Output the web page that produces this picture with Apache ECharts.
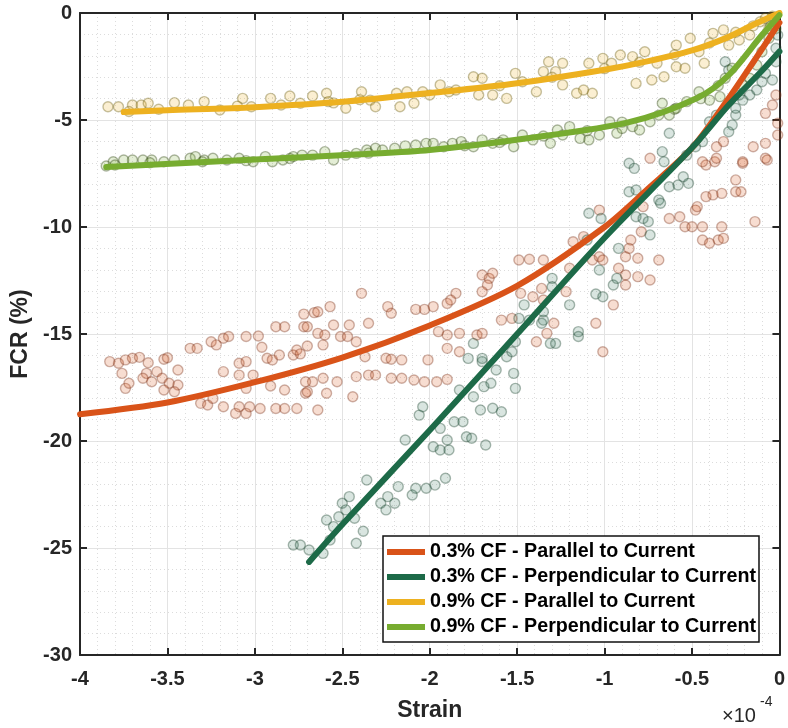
<!DOCTYPE html>
<html><head><meta charset="utf-8">
<script src="https://cdn.jsdelivr.net/npm/echarts@6/dist/echarts.min.js"></script>
<style>html,body{margin:0;padding:0;background:#fff}#c{width:788px;height:728px}</style>
</head><body><div id="c"></div>
<script>
// ---- data (strain in units of 1e-4, FCR in %) ----
const seriesNames = [
  '0.3% CF - Parallel to Current',
  '0.3% CF - Perpendicular to Current',
  '0.9% CF - Parallel to Current',
  '0.9% CF - Perpendicular to Current'
];
const xAxisName = 'Strain';
const yAxisName = 'FCR (%)';
const xExponent = '-4';

// fitted curves
const fit03ParX = [-4, -3.5, -3, -2.5, -2, -1.5, -1, -0.75, -0.5, -0.3, -0.15, 0];
const fit03ParY = [-18.75, -18.2, -17.25, -16.1, -14.6, -12.75, -10.0, -8.2, -6.3, -4.1, -2.3, -0.45];
const fit03PerpX = [-2.69, -2.5, -2, -1.5, -1, -0.5, -0.29, -0.1, 0];
const fit03PerpY = [-25.65, -23.9, -19.5, -15.0, -10.5, -6.3, -4.3, -2.7, -1.8];
const fit09ParX = [-3.75, -3.5, -3, -2.5, -2, -1.5, -1, -0.75, -0.5, -0.3, -0.15, 0];
const fit09ParY = [-4.63, -4.55, -4.4, -4.15, -3.74, -3.28, -2.65, -2.25, -1.75, -1.15, -0.55, 0];
const fit09PerpX = [-3.85, -3.0, -2.4, -2.0, -1.43, -0.86, -0.47, -0.29, -0.1, 0];
const fit09PerpY = [-7.2, -6.85, -6.6, -6.4, -5.84, -5.1, -3.97, -2.9, -1.03, -0.1];

// measured points
const pts03Par = [
[-3.83,-16.29],[-3.78,-16.37],[-3.76,-16.84],[-3.74,-16.21],[-3.70,-16.13],[-3.66,-16.09],[-3.61,-16.34],[-3.62,-16.84],
[-3.64,-17.07],[-3.59,-17.23],[-3.56,-16.76],[-3.52,-16.18],[-3.50,-16.11],[-3.53,-17.07],[-3.49,-17.30],[-3.44,-17.38],
[-3.44,-16.68],[-3.74,-17.54],[-3.72,-17.30],[-3.52,-17.62],[-3.46,-17.70],[-3.37,-15.67],[-3.33,-15.67],[-3.25,-15.36],
[-3.22,-15.51],[-3.18,-15.20],[-3.15,-15.12],[-3.18,-16.76],[-3.09,-16.37],[-3.09,-16.92],[-3.05,-15.12],[-3.05,-16.29],
[-3.01,-16.92],[-2.98,-15.09],[-2.96,-15.62],[-2.93,-16.13],[-2.90,-16.21],[-2.86,-15.98],[-2.88,-14.66],[-2.83,-14.66],
[-2.78,-15.98],[-2.76,-15.75],[-2.74,-15.93],[-2.72,-14.07],[-2.72,-14.66],[-2.70,-14.66],[-2.70,-15.56],[-2.66,-14.00],
[-2.64,-13.96],[-2.64,-14.97],[-2.60,-15.05],[-2.57,-13.72],[-2.55,-14.58],[-2.51,-15.12],[-2.47,-15.12],[-2.46,-14.58],
[-2.42,-15.36],[-2.39,-13.10],[-2.37,-16.06],[-2.35,-14.50],[-2.61,-15.51],[-2.61,-17.07],[-2.67,-17.23],[-2.71,-17.23],
[-2.71,-17.77],[-2.59,-17.77],[-2.53,-17.23],[-2.44,-17.93],[-2.42,-16.99],[-2.35,-16.92],[-2.31,-16.92],[-2.24,-13.72],
[-2.22,-14.03],[-2.25,-16.13],[-2.22,-16.18],[-2.16,-16.21],[-2.22,-17.07],[-2.16,-17.07],[-2.09,-17.15],[-2.03,-17.23],
[-2.08,-13.85],[-2.03,-13.85],[-1.98,-13.72],[-1.95,-14.89],[-2.01,-16.21],[-1.96,-17.23],[-3.31,-18.24],[-3.27,-18.32],
[-3.24,-18.01],[-3.18,-18.40],[-3.11,-18.71],[-3.09,-18.40],[-3.05,-18.71],[-3.03,-18.40],[-2.97,-18.48],[-2.88,-18.48],
[-2.83,-18.48],[-2.76,-18.48],[-2.64,-18.55],[-3.05,-17.54],[-2.91,-17.43],[-2.83,-17.62],[-2.70,-17.70],
[-1.90,-17.12],[-1.90,-15.67],[-1.83,-15.83],
[-1.90,-13.57],[-1.85,-13.10],[-1.88,-13.41],[-1.90,-15.05],[-1.83,-14.97],[-1.70,-12.24],[-1.66,-12.40],[-1.64,-12.16],
[-1.67,-12.71],[-1.70,-13.02],[-1.49,-11.54],[-1.43,-11.51],[-1.35,-11.54],[-1.48,-13.10],[-1.41,-13.26],[-1.36,-12.87],
[-1.35,-13.41],[-1.59,-14.35],[-1.53,-14.27],[-1.73,-15.05],[-1.70,-14.97],[-1.39,-15.36],[-1.29,-14.50],[-1.33,-14.97],
[-1.22,-13.02],[-1.18,-10.69],[-1.12,-10.45],[-1.20,-11.93],[-1.07,-11.54],[-1.03,-11.39],[-1.01,-11.54],[-1.05,-14.50],
[-1.01,-15.83],[-0.95,-13.64],[-0.92,-11.93],[-0.88,-12.24],[-0.88,-12.71],[-0.81,-12.32],[-0.81,-11.46],[-0.88,-11.39],
[-0.85,-10.61],[-0.86,-11.00],[-0.79,-10.22],[-0.74,-12.48],[-0.69,-11.54],[-1.03,-9.21],[-0.78,-9.05],[-0.63,-9.60],
[-0.57,-9.52],[-0.54,-9.99],[-0.50,-9.99],[-0.44,-9.99],[-0.33,-9.99],[-0.44,-10.61],[-0.40,-10.76],[-0.35,-10.61],
[-0.32,-10.53],[-0.48,-9.21],[-0.47,-9.05],[-0.42,-8.58],[-0.38,-8.50],[-0.33,-8.43],[-0.25,-7.80],[-0.25,-8.35],
[-0.22,-8.35],[-0.14,-9.75],[-0.42,-7.10],[-0.37,-6.95],[-0.21,-7.02],[-0.07,-6.87],
[-0.74,-6.79],[-0.44,-6.95],[-0.36,-6.25],[-0.32,-6.01],[-0.36,-6.79],[-0.21,-6.95],[-0.15,-6.25],[-0.08,-6.09],
[-0.08,-6.79],[-0.08,-4.69],[-0.04,-4.30],[-0.02,-3.83],[-0.01,-5.70],[-0.01,-5.15]
];
const pts03Perp = [
[-2.78,-24.86],[-2.74,-24.86],[-2.69,-25.09],[-2.61,-25.25],[-2.57,-24.63],[-2.55,-24.00],[-2.59,-23.69],[-2.52,-23.54],
[-2.50,-22.91],[-2.48,-23.22],[-2.46,-22.60],[-2.42,-24.78],[-2.38,-24.22],[-2.43,-23.61],[-2.36,-21.82],[-2.28,-22.91],
[-2.25,-23.22],[-2.24,-22.60],[-2.20,-22.91],[-2.18,-22.13],[-2.14,-19.95],[-2.10,-22.52],[-2.08,-22.21],[-2.02,-22.21],
[-1.97,-22.06],[-1.91,-21.74],[-2.06,-18.79],[-2.04,-18.40],[-1.98,-20.27],[-1.94,-20.42],[-1.89,-20.42],[-1.90,-19.95],
[-1.94,-19.41],[-1.86,-19.10],[-1.81,-19.10],[-1.79,-19.80],[-1.76,-19.87],[-1.71,-18.55],[-1.68,-20.19],[-1.64,-18.47],
[-1.59,-18.63],[-1.69,-17.46],[-1.65,-17.30],[-1.70,-16.29],[-1.62,-16.68],[-1.52,-16.84],[-1.51,-17.54],[-1.83,-17.62],
[-1.75,-17.93],
[-1.78,-16.14],[-1.75,-15.44],[-1.70,-16.14],[-1.56,-16.06],[-1.53,-15.83],[-1.51,-15.36],[-1.46,-13.64],[-1.49,-14.27],
[-1.43,-14.35],[-1.36,-14.50],[-1.35,-14.35],[-1.35,-13.96],[-1.30,-12.40],[-1.30,-12.79],[-1.31,-15.44],[-1.28,-15.44],
[-1.20,-13.64],[-1.15,-14.89],[-1.15,-15.12],[-1.10,-10.61],[-1.09,-9.36],[-1.05,-13.13],[-1.01,-13.26],[-1.02,-9.60],
[-1.03,-12.01],[-0.95,-12.71],[-0.93,-12.40],[-0.92,-11.00],[-0.82,-9.52],[-0.78,-9.60],[-0.82,-8.27],[-0.86,-8.35],
[-0.75,-9.75],[-0.74,-10.37],[-0.69,-8.74],[-0.68,-8.89],[-0.63,-8.12],[-0.58,-8.04],[-0.55,-7.65],[-0.52,-7.96],
[-0.83,-7.26],
[-0.86,-7.02],[-0.67,-6.48],[-0.63,-5.62],[-0.66,-6.95],[-0.53,-6.64],[-0.48,-6.25],[-0.44,-6.01],[-0.40,-5.08],
[-0.36,-4.77],[-0.29,-5.55],[-0.27,-5.23],[-0.25,-4.77],[-0.25,-4.45],[-0.21,-4.07],[-0.17,-3.83],[-0.23,-3.83],
[-0.13,-3.60],[-0.10,-3.21],[-0.08,-2.82],[-0.04,-3.13],[-0.02,-2.28],[-0.02,-1.65],[-0.01,-1.03],[-0.31,-2.28],
[-0.29,-2.66]
];
const pts09Par = [
[-3.84,-4.38],[-3.78,-4.38],[-3.70,-4.30],[-3.65,-4.30],[-3.61,-4.22],[-3.46,-4.19],[-3.38,-4.30],[-3.29,-4.14],
[-3.20,-4.53],[-3.07,-3.99],[-3.02,-4.38],[-2.91,-3.99],[-2.80,-3.88],[-2.74,-4.22],[-2.67,-3.88],[-2.59,-3.75],
[-2.58,-4.14],[-2.48,-4.45],[-2.39,-3.68],[-2.34,-4.07],[-2.31,-4.38],[-2.19,-3.75],[-2.13,-3.68],[-2.09,-4.22],
[-2.04,-3.68],[-2.17,-4.38],[-2.00,-3.83],[-1.94,-3.36],[-1.89,-3.68],[-1.75,-2.98],[-1.70,-3.05],[-1.72,-3.83],
[-1.64,-3.83],[-1.56,-3.99],[-1.51,-2.82],[-1.47,-3.21],[-1.39,-3.68],[-1.35,-2.74],[-1.32,-2.28],[-1.28,-2.74],
[-1.24,-2.35],[-1.24,-3.36],[-1.16,-3.75],[-1.12,-3.60],[-1.07,-3.75],[-1.09,-2.35],[-1.01,-2.12],[-0.96,-2.35],
[-0.91,-1.96],[-0.84,-2.04],[-0.77,-1.81],[-0.82,-3.29],[-0.73,-3.13],[-0.66,-2.98],[-0.70,-2.35],[-0.59,-2.51],
[-0.54,-2.58],[-0.59,-1.50],[-0.51,-1.18],[-0.46,-1.81],[-0.43,-2.35],[-0.38,-0.95],[-0.32,-0.79],[-0.29,-1.50],
[-0.23,-1.26],[-0.17,-1.03],[-0.11,-0.41],[-0.08,-0.25],[-0.06,-0.72],
[-3.72,-4.60],[-3.55,-4.50],[-3.10,-4.35],[-2.85,-4.30],[-2.55,-4.20],[-2.40,-4.05],[-1.85,-3.60],[-1.60,-3.40],
[-1.30,-3.00],[-1.00,-2.60],[-0.80,-2.30],[-0.60,-1.95],[-0.40,-1.40],[-0.25,-0.90],[-0.15,-0.60],[-0.04,-0.15]
];
const pts09Perp = [
[-3.85,-7.15],[-3.81,-6.95],[-3.75,-6.87],[-3.70,-6.87],[-3.64,-6.87],[-3.59,-6.87],[-3.52,-6.95],[-3.46,-6.87],
[-3.37,-6.79],[-3.34,-6.71],[-3.29,-6.87],[-3.24,-6.79],[-3.16,-6.87],[-3.09,-6.79],[-3.01,-6.95],[-2.94,-6.71],
[-2.90,-6.95],[-2.84,-6.87],[-2.78,-6.71],[-2.73,-6.64],[-2.67,-6.64],[-2.60,-6.48],[-2.55,-6.87],[-2.48,-6.64],
[-2.42,-6.56],[-2.36,-6.40],[-2.31,-6.32],[-2.27,-6.40],[-2.20,-6.32],[-2.14,-6.21],[-2.08,-6.17],[-2.02,-6.09],
[-1.98,-6.09],[-1.92,-6.25],[-1.87,-6.09],[-1.82,-6.01],[-1.75,-6.25],[-1.70,-5.93],[-1.64,-6.09],[-1.58,-5.93],
[-1.52,-6.25],[-1.47,-5.70],[-1.41,-5.93],[-1.31,-6.09],[-1.27,-5.47],[-1.24,-5.70],[-1.20,-5.31],[-1.14,-5.86],
[-1.09,-5.93],[-1.03,-5.70],[-0.97,-5.08],[-0.93,-5.62],[-0.90,-5.39],[-0.84,-5.31],[-0.80,-5.47],[-0.74,-5.08],
[-0.69,-4.77],[-0.63,-4.77],[-0.67,-4.22],[-0.59,-4.45],[-0.53,-4.14],[-0.46,-3.68],[-0.40,-4.07],[-0.34,-3.91],
[-0.31,-3.05],[-0.27,-2.58],[-0.21,-3.36],[-0.17,-3.05],[-0.13,-2.43],[-0.10,-1.81],[-0.06,-1.18],[-0.02,-0.72],
[-3.80,-7.10],[-3.60,-7.00],[-3.30,-6.95],[-3.05,-6.90],[-2.80,-6.80],[-2.35,-6.55],[-1.80,-6.20],[-1.60,-6.05],
[-1.35,-5.75],[-1.10,-5.50],[-0.90,-5.10],[-0.60,-4.50],[-0.45,-4.00],[-0.35,-3.40],[-0.05,-0.60]
];

// axis ticks
const xMin = -4, xMax = 0, xStep = 0.5;
const yMin = -30, yMax = 0, yStep = 5;

// ---- chart ----
const FONT = '"Liberation Sans", Arial, Helvetica, sans-serif';
const INK = '#262626';
const lineColors = ['#D95319', '#1D6A48', '#EDB120', '#77AC30'];
const fillColors = ['rgba(217,83,25,0.25)', 'rgba(40,110,80,0.22)', 'rgba(237,177,32,0.25)', 'rgba(119,172,48,0.25)'];
const edgeColors = ['rgba(120,45,20,0.45)', 'rgba(20,60,40,0.45)', 'rgba(110,95,20,0.48)', 'rgba(50,70,20,0.48)'];

function zip(xs, ys) { return xs.map((x, i) => [x, ys[i]]); }

const grid = { left: 80, right: 8, top: 13, bottom: 73 };

function makeX(pos, labels) {
  return {
    type: 'value', position: pos, min: xMin, max: xMax, interval: xStep,
    name: labels ? xAxisName : '', nameLocation: 'middle', nameGap: 44,
    nameTextStyle: { fontFamily: FONT, fontSize: 23, fontWeight: 'bold', color: INK },
    axisLine: { show: true, onZero: false, lineStyle: { color: INK, width: 2 } },
    axisTick: { show: true, inside: true, length: 7, lineStyle: { color: INK, width: 2 } },
    axisLabel: { show: labels, margin: 14, fontFamily: FONT, fontSize: 20, fontWeight: 'bold', color: INK },
    splitLine: { show: labels, lineStyle: { color: '#e3e3e3', width: 1 } },
    minorTick: { show: false, splitNumber: 5 },
    minorSplitLine: { show: labels, lineStyle: { color: '#dcdcdc', width: 1, type: [1, 3] } }
  };
}
function makeY(pos, labels) {
  return {
    type: 'value', position: pos, min: yMin, max: yMax, interval: yStep,
    name: labels ? yAxisName : '', nameLocation: 'middle', nameGap: 40, nameRotate: 90,
    nameTextStyle: { fontFamily: FONT, fontSize: 23, fontWeight: 'bold', color: INK },
    axisLine: { show: true, onZero: false, lineStyle: { color: INK, width: 2 } },
    axisTick: { show: true, inside: true, length: 7, lineStyle: { color: INK, width: 2 } },
    axisLabel: { show: labels, margin: 8, fontFamily: FONT, fontSize: 20, fontWeight: 'bold', color: INK },
    splitLine: { show: labels, lineStyle: { color: '#e3e3e3', width: 1 } },
    minorTick: { show: false, splitNumber: 5 },
    minorSplitLine: { show: labels, lineStyle: { color: '#dcdcdc', width: 1, type: [1, 3] } }
  };
}

const ptsAll = [pts03Par, pts03Perp, pts09Par, pts09Perp];
const fitsAll = [zip(fit03ParX, fit03ParY), zip(fit03PerpX, fit03PerpY), zip(fit09ParX, fit09ParY), zip(fit09PerpX, fit09PerpY)];

const series = [];
ptsAll.forEach((pts, i) => {
  series.push({
    type: 'scatter', name: 'pts' + i, data: pts, symbol: 'circle', symbolSize: 10,
    itemStyle: { color: fillColors[i], borderColor: edgeColors[i], borderWidth: 1.4 },
    z: 2, silent: true, animation: false
  });
});
const lineOrder = [0, 1, 3, 2];
lineOrder.forEach(i => {
  series.push({
    type: 'line', name: seriesNames[i], data: fitsAll[i], smooth: 0.3,
    showSymbol: false, symbol: 'none',
    lineStyle: { color: lineColors[i], width: 6, join: 'round', cap: 'round' }, itemStyle: { color: lineColors[i] },
    z: 3 + i, animation: false
  });
});

const chart = echarts.init(document.getElementById('c'), null, { renderer: 'canvas' });
chart.setOption({
  backgroundColor: '#fff',
  animation: false,
  grid: grid,
  xAxis: [makeX('bottom', true), makeX('top', false)],
  yAxis: [makeY('left', true), makeY('right', false)],
  legend: {
    data: seriesNames, orient: 'vertical', left: 383, top: 536,
    icon: 'rect', itemWidth: 38, itemHeight: 6, itemGap: 5,
    padding: [6, 3, 5, 4], backgroundColor: '#fff', borderColor: '#111', borderWidth: 1.5, borderRadius: 0,
    textStyle: { fontFamily: FONT, fontSize: 19.7, fontWeight: 'bold', color: '#000', lineHeight: 20 },
    selectedMode: false, z: 10
  },
  graphic: [
    { type: 'text', left: 722, top: 706, z: 10,
      style: { text: '\u00d710', fontFamily: FONT, fontSize: 20, fontWeight: 'normal', fill: INK } },
    { type: 'text', left: 760, top: 695, z: 10,
      style: { text: xExponent, fontFamily: FONT, fontSize: 14, fontWeight: 'normal', fill: INK } }
  ],
  series: series
});
</script>
</body></html>
